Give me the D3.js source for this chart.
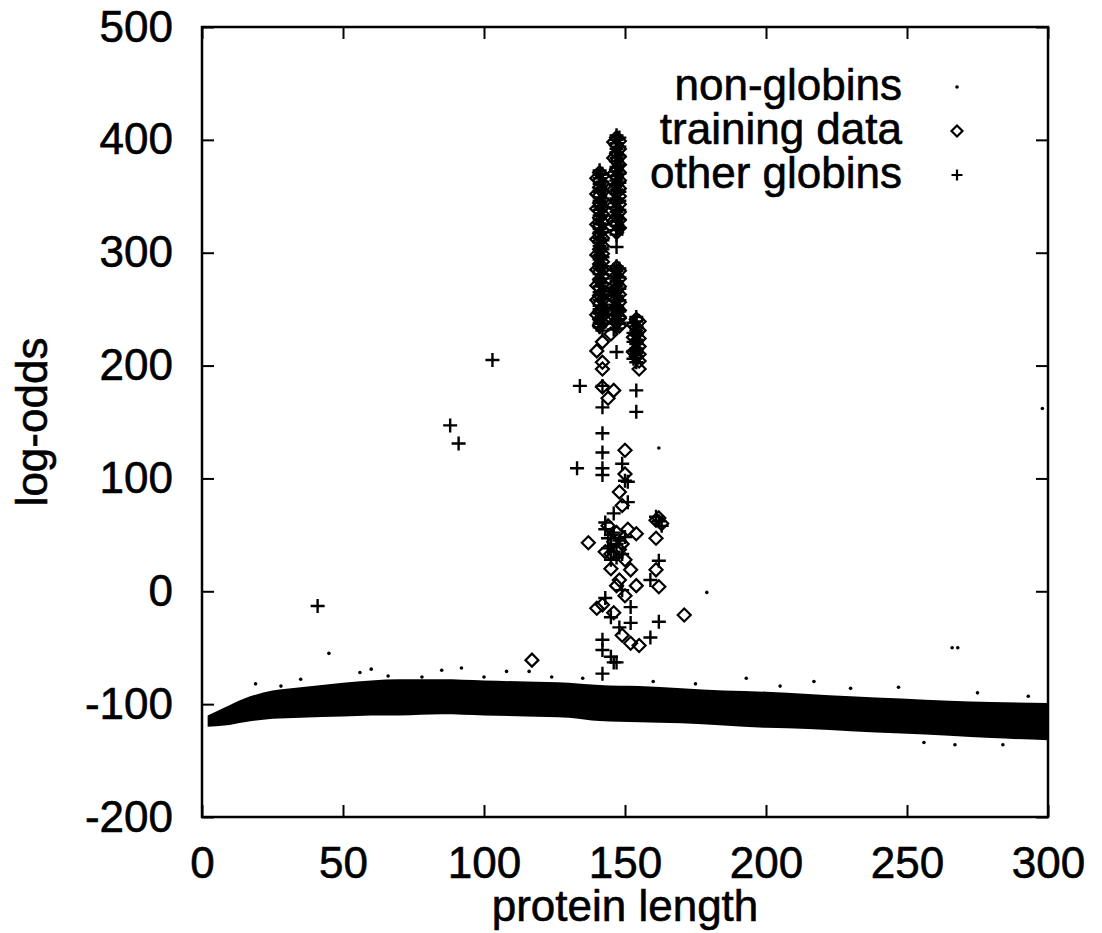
<!DOCTYPE html>
<html>
<head>
<meta charset="utf-8">
<script src="https://cdn.jsdelivr.net/npm/d3@7"></script>
<style>
	html, body { margin: 0; padding: 0; background: #fff; }
	text { font-family: "Liberation Sans", Arial, sans-serif; fill: #000; stroke: #000; stroke-width: 0.6px; }
</style>
</head>
<body>
<div id="chart"></div>
<script>

// non-globin band, read as lower / upper edge per protein length
const nonLen = [2, 8, 15, 25, 35, 50, 60, 70, 85, 100, 115, 130, 141, 155, 170, 185, 200, 215, 230, 248, 265, 280, 300];
const nonHi = [-110, -103, -95, -88, -85, -81, -79, -78, -78, -79, -80, -81, -83, -84, -86, -88, -89, -91, -93, -95, -97, -98, -99];
const nonLo = [-120, -119, -116, -113, -112, -111, -110, -110, -109, -110, -111, -112, -115, -116, -117, -119, -121, -122, -124, -126, -128, -130, -132];

// non-globins standing off the band
const nonOut = [
	[45, -55], [56, -72], [60, -69], [85, -70], [92, -68], [108, -71], [116, -71], [19, -82], [35, -78],
	[28, -84], [66, -75], [78, -76], [124, -76], [135, -77], [193, -77], [217, -80], [247, -85], [293, -93],
	[256, -134], [267, -136], [284, -136], [266, -50], [268, -50], [298, 162], [162, 127], [179, -1],
	[100, -76], [160, -80], [175, -82], [205, -84], [230, -86], [275, -90]
];

const trainData = [
	[142, 221], [140, 213], [142, 203], [142, 197], [146, 178], [144, 171], [142, 181], [155, 197],
	[150, 125], [150, 104], [148, 88], [149, 76], [137, 43], [154, 51], [162, 65], [163, 60], [161, 63],
	[161, 47], [161, 19], [162, 4], [145, 20], [152, 19], [148, 10], [154, 5], [150, -4], [140, -15],
	[142, -12], [146, -19], [149, -39], [152, -46], [155, -48], [171, -21], [117, -61], [147, 5],
	[144, 58], [146, 44], [148, 37], [147, 52], [145, 33], [149, 42], [150, 28], [143, 35], [151, 55],
	[142, 248], [143, 240], [146, 260], [147, 250], [141, 236], [148, 243], [145, 228], [143, 265],
	// alpha column
	[141, 371], [141, 364], [141, 358], [141, 351], [141, 344], [141, 337], [141, 331], [141, 324], [141, 317],
	[141, 310], [141, 303], [141, 297], [141, 290], [141, 283], [141, 276], [141, 269], [141, 262], [141, 255],
	[141, 248], [141, 241], [141, 235],
	[142, 368], [142, 361], [142, 354], [142, 347], [142, 340], [142, 334], [142, 327], [142, 320], [142, 313],
	[142, 306], [142, 299], [142, 292], [142, 285], [142, 279], [142, 272], [142, 265], [142, 258], [142, 251],
	[142, 244], [142, 238],
	[140, 366], [140, 352], [140, 339], [140, 325], [140, 312], [140, 298], [140, 285], [140, 271], [140, 258], [140, 245],
	// beta column
	[147, 402], [147, 395], [147, 388], [147, 381], [147, 374], [147, 367], [147, 360], [147, 353], [147, 346],
	[147, 339], [147, 332], [147, 325], [147, 318], [147, 287], [147, 280], [147, 273], [147, 266], [147, 259],
	[147, 252], [147, 245], [147, 238],
	[148, 399], [148, 392], [148, 385], [148, 378], [148, 371], [148, 364], [148, 357], [148, 350], [148, 343],
	[148, 336], [148, 329], [148, 322], [148, 284], [148, 277], [148, 270], [148, 263], [148, 256], [148, 249],
	[148, 242], [148, 235],
	[146, 398], [146, 384], [146, 370], [146, 356], [146, 342], [146, 328],
	// myoglobin column
	[154, 241], [154, 234], [154, 228], [154, 221], [154, 214], [154, 208],
	[155, 239], [155, 231], [155, 224], [155, 217], [155, 210], [155, 204], [153, 236], [153, 225], [153, 212]
];

const otherData = [
	[41, -13], [88, 147], [91, 131], [103, 205], [134, 182], [133, 109],
	[147, 305], [147, 212], [154, 178], [154, 159], [142, 163], [142, 140], [142, 123], [142, 109], [142, 103],
	[149, 113], [150, 98], [151, 97], [151, 79], [143, 61], [146, 69], [145, 50], [162, 27], [159, 10],
	[149, 1], [143, -6], [145, -23], [152, -14], [152, -28], [148, -32], [159, -41], [162, -27],
	[142, -43], [142, -52], [145, -58], [147, -63], [146, -63], [142, -73], [142, 182],
	[143, 55], [144, 47], [145, 40], [146, 35], [147, 30], [148, 45], [146, 52], [144, 38], [147, 42],
	[149, 33], [145, 28], [150, 48], [162, 62], [163, 58], [161, 66],
	// alpha column
	[141, 373], [141, 369], [141, 366], [141, 361], [141, 357], [141, 354], [141, 349], [141, 346], [141, 341],
	[141, 338], [141, 333], [141, 330], [141, 326], [141, 321], [141, 318], [141, 313], [141, 309], [141, 306],
	[141, 301], [141, 297], [141, 294], [141, 289], [141, 286], [141, 281], [141, 277], [141, 274], [141, 270],
	[141, 265], [141, 262], [141, 258], [141, 253], [141, 250], [141, 246], [141, 241], [141, 238], [141, 234],
	[142, 370], [142, 363], [142, 355], [142, 348], [142, 340], [142, 333], [142, 325], [142, 318], [142, 311],
	[142, 303], [142, 296], [142, 288], [142, 281], [142, 273], [142, 266], [142, 259], [142, 251], [142, 244],
	[142, 237], [142, 231],
	// beta column
	[147, 404], [147, 400], [147, 397], [147, 392], [147, 389], [147, 384], [147, 381], [147, 376], [147, 372],
	[147, 368], [147, 364], [147, 360], [147, 356], [147, 352], [147, 348], [147, 344], [147, 340], [147, 336],
	[147, 332], [147, 328], [147, 324], [147, 320], [147, 316], [147, 288], [147, 284], [147, 279], [147, 275],
	[147, 270], [147, 266], [147, 262], [147, 257], [147, 253], [147, 249], [147, 245], [147, 241], [147, 237],
	[147, 233], [146, 285], [146, 277], [146, 269], [146, 262], [146, 254], [146, 246], [146, 239], [146, 232],
	[148, 402], [148, 394], [148, 386], [148, 378], [148, 370], [148, 362], [148, 354], [148, 346], [148, 338],
	[148, 330], [148, 322], [148, 286], [148, 278], [148, 268], [148, 258], [148, 248], [148, 238],
	// myoglobin column
	[154, 243], [154, 239], [154, 235], [154, 231], [154, 227], [154, 223], [154, 219], [154, 215], [154, 211],
	[154, 207], [154, 203], [153, 238], [153, 229], [153, 221], [153, 213], [153, 206]
];

const xTicks = [0, 50, 100, 150, 200, 250, 300];
const yTicks = [-200, -100, 0, 100, 200, 300, 400, 500];
const legendLabels = ['non-globins', 'training data', 'other globins'];

const ProteinPlot = function ProteinPlot (id) {
	let self = this;
	self.id = id;
	self.width = 1102;
	self.height = 933;
	self.left = 202;
	self.right = 1048;
	self.top = 27;
	self.bottom = 817;
	self.init();
	return self;
};

ProteinPlot.prototype.diamond = 'M0,-6.5L6.5,0L0,6.5L-6.5,0Z';
ProteinPlot.prototype.plus = 'M-7,0H7M0,-7V7';

ProteinPlot.prototype.init = function init() {
	const self = this;

	d3.select(self.id).selectAll('*').remove();

	self.svg = d3.select(self.id)
		.append('svg')
		.attr('width', self.width)
		.attr('height', self.height);

	const x = d3.scaleLinear().domain([0, 300]).range([self.left, self.right]);
	const y = d3.scaleLinear().domain([-200, 500]).range([self.bottom, self.top]);

	const plot = self.svg.append('g');

	// band of non-globins
	const band = nonLen.map((l, i) => ({ l: l, lo: nonLo[i], hi: nonHi[i] }));
	plot.append('path')
		.datum(band)
		.attr('fill', '#000')
		.attr('d', d3.area()
			.x(d => x(d.l))
			.y0(d => y(d.lo))
			.y1(d => y(d.hi))
			.curve(d3.curveMonotoneX));

	plot.selectAll('circle.non')
		.data(nonOut)
		.enter()
		.append('circle')
		.attr('class', 'non')
		.attr('cx', d => x(d[0]))
		.attr('cy', d => y(d[1]))
		.attr('r', 1.8)
		.attr('fill', '#000');

	plot.selectAll('path.train')
		.data(trainData)
		.enter()
		.append('path')
		.attr('class', 'train')
		.attr('d', self.diamond)
		.attr('transform', d => `translate(${x(d[0])},${y(d[1])})`)
		.attr('fill', 'none')
		.attr('stroke', '#000')
		.attr('stroke-width', 2.2);

	plot.selectAll('path.other')
		.data(otherData)
		.enter()
		.append('path')
		.attr('class', 'other')
		.attr('d', self.plus)
		.attr('transform', d => `translate(${x(d[0])},${y(d[1])})`)
		.attr('fill', 'none')
		.attr('stroke', '#000')
		.attr('stroke-width', 2.4);

	// axes, ticks turned inward on all four sides
	const styleAxis = g => {
		g.select('.domain').remove();
		g.selectAll('line').attr('stroke', '#000').attr('stroke-width', 2);
		g.selectAll('text')
			.style('font-family', '"Liberation Sans", Arial, sans-serif')
			.style('font-size', '44px')
			.attr('fill', '#000');
	};

	self.svg.append('g')
		.attr('transform', `translate(0,${self.bottom})`)
		.call(d3.axisBottom(x).tickValues(xTicks).tickSize(-12).tickPadding(30).tickFormat(d => d))
		.call(styleAxis);

	self.svg.append('g')
		.attr('transform', `translate(0,${self.top})`)
		.call(d3.axisTop(x).tickValues(xTicks).tickSize(-12).tickFormat(''))
		.call(styleAxis);

	self.svg.append('g')
		.attr('transform', `translate(${self.left},0)`)
		.call(d3.axisLeft(y).tickValues(yTicks).tickSize(-12).tickPadding(29).tickFormat(d => d))
		.call(styleAxis);

	self.svg.append('g')
		.attr('transform', `translate(${self.right},0)`)
		.call(d3.axisRight(y).tickValues(yTicks).tickSize(-12).tickFormat(''))
		.call(styleAxis);

	self.svg.append('rect')
		.attr('x', self.left)
		.attr('y', self.top)
		.attr('width', self.right - self.left)
		.attr('height', self.bottom - self.top)
		.attr('fill', 'none')
		.attr('stroke', '#000')
		.attr('stroke-width', 2.5);

	self.svg.append('text')
		.attr('x', (self.left + self.right) / 2)
		.attr('y', 921)
		.attr('text-anchor', 'middle')
		.style('font-size', '44px')
		.text('protein length');

	self.svg.append('text')
		.attr('transform', `translate(47,${(self.top + self.bottom) / 2}) rotate(-90)`)
		.attr('text-anchor', 'middle')
		.style('font-size', '44px')
		.text('log-odds');

	// legend
	const legend = self.svg.append('g');
	legendLabels.forEach((label, i) => {
		const by = 100 + i * 44;
		legend.append('text')
			.attr('x', 902)
			.attr('y', by)
			.attr('text-anchor', 'end')
			.style('font-size', '44px')
			.text(label);
		const mark = legend.append('g').attr('transform', `translate(957,${by - 13})`);
		if (i === 0) {
			mark.append('circle').attr('r', 1.8).attr('fill', '#000');
		} else {
			mark.append('path')
				.attr('d', i === 1 ? 'M0,-5.5L5.5,0L0,5.5L-5.5,0Z' : 'M-5.5,0H5.5M0,-5.5V5.5')
				.attr('fill', 'none')
				.attr('stroke', '#000')
				.attr('stroke-width', 2.2);
		}
	});

	return self;
};

new ProteinPlot('#chart');
</script>
</body>
</html>
